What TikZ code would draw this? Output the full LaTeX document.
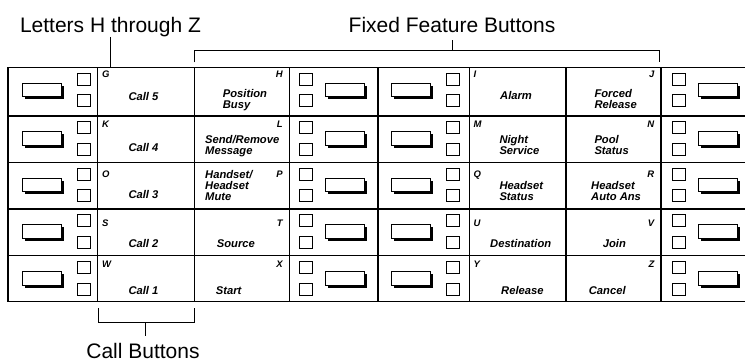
\documentclass[tikz,border=0pt]{standalone}
\usepackage{fontspec}
\setmainfont{Liberation Sans}
\usetikzlibrary{shadows, positioning}

\begin{document}
\begin{tikzpicture}[
    x=1pt, y=-1pt,
    gridline/.style={line width=1.2pt},
    bracket/.style={line width=0.9pt},
    title/.style={font=\fontsize{21}{21}\selectfont, anchor=base, inner sep=0pt},
    keylabel/.style={font=\fontsize{11.2}{10.9}\selectfont\bfseries\itshape, align=left, anchor=base west, inner sep=0pt},
    keyletter/.style={font=\fontsize{9.5}{9.5}\selectfont\bfseries\itshape, inner sep=0pt},
    lamp/.style={draw, line width=0.8pt, minimum width=13pt, minimum height=12pt, inner sep=0pt},
    keybtn/.style={draw, line width=0.7pt, fill=white, minimum width=39pt, minimum height=13.4pt, inner sep=0pt,
      general shadow={fill=black, shadow xshift=2.6pt, shadow yshift=-2.6pt}},
]
\useasboundingbox (0,0) rectangle (745,362);

% Console grid
\begin{scope}
\clip (0,0) rectangle (745,362);
\draw[gridline] (8,67.5) rectangle (760,301.8);
\foreach \t in {115.9, 162.3, 209, 255.7}
  \draw[gridline] (8,\t) -- (760,\t);
\foreach \c in {97.7, 194.2, 289.3, 378, 469.3, 566, 661}
  \draw[gridline] (\c,67.5) -- (\c,301.8);
\end{scope}
\coordinate (tabletop) at (0,67.5);

% Buttons and lamps
\foreach \r/\t in {1/67.5, 2/115.9, 3/162.3, 4/209, 5/255.7} {
  \foreach \c/\bx/\sx in {a/42.2/83.7, b/345/305.7, c/411/453.3, d/717.5/678.5} {
    \node[keybtn] (btn-\c\r) at (\bx,\t+22.5) {};
    \node[lamp] (lampup-\c\r) at (\sx,\t+11.7) {};
    \node[lamp] (lamplo-\c\r) at (\sx,\t+33.3) {};
  }
}

% Key letters
\foreach \r/\b/\la/\lb/\lc/\ld in {1/77.5/G/H/I/J, 2/127/K/L/M/N, 3/177/O/P/Q/R,
    4/226.5/S/T/U/V, 5/267.5/W/X/Y/Z} {
  \node[keyletter, anchor=base west] (let-\la) at (102,\b) {\la};
  \node[keyletter, anchor=base east] (let-\lb) at (283,\b) {\lb};
  \node[keyletter, anchor=base west] (let-\lc) at (473.5,\b) {\lc};
  \node[keyletter, anchor=base east] (let-\ld) at (654.5,\b) {\ld};
}

% Call keys
\node[keylabel] (call5) at (128.3,100) {Call 5};
\node[keylabel] (call4) at (128.3,151.5) {Call 4};
\node[keylabel] (call3) at (128.3,198) {Call 3};
\node[keylabel] (call2) at (128.3,247) {Call 2};
\node[keylabel] (call1) at (128.3,294.5) {Call 1};

% Feature keys (base = last line)
\node[keylabel] (posbusy) at (222.7,108.2) {Position\\Busy};
\node[keylabel] (sendrem) at (205,154.8) {Send/Remove\\Message};
\node[keylabel] (hsmute) at (205,200.6) {Handset/\\Headset\\Mute};
\node[keylabel] (source) at (216.7,247) {Source};
\node[keylabel] (start) at (215.7,294) {Start};
\node[keylabel] (alarm) at (500,99.5) {Alarm};
\node[keylabel] (night) at (499.3,154.5) {Night\\Service};
\node[keylabel] (hsstatus) at (499.3,200.7) {Headset\\Status};
\node[keylabel] (dest) at (490,247) {Destination};
\node[keylabel] (release) at (501,294) {Release};
\node[keylabel] (forced) at (594.3,108.3) {Forced\\Release};
\node[keylabel] (pool) at (594.3,154.5) {Pool\\Status};
\node[keylabel] (autoans) at (591,200.7) {Headset\\Auto Ans};
\node[keylabel] (join) at (602.7,247) {Join};
\node[keylabel] (cancel) at (588.7,294) {Cancel};

% Callouts
\node[title] (letters) at (110.5,32.3) {Letters H through Z};
\draw[bracket] (letters.south) -- (letters.south |- tabletop);

\node[title] (fixed) at (452,32.3) {Fixed Feature Buttons};
\coordinate (fixtop) at (452,40);
\coordinate (fixL) at (194.3,62.3);
\coordinate (fixR) at (659.3,62.3);
\draw[bracket] (fixL) -- ++(0,-11.6) -| (fixR);
\draw[bracket] (fixtop) -- ++(0,10.7);

\node[title] (callbtns) at (143,358.5) {Call Buttons};
\coordinate (callL) at (98.3,308.3);
\coordinate (callR) at (194.3,308.3);
\coordinate (calltick) at (145,335.7);
\draw[bracket] (callL) -- ++(0,14.4) -| (callR);
\draw[bracket] (calltick) -- ++(0,-13);

\end{tikzpicture}
\end{document}
